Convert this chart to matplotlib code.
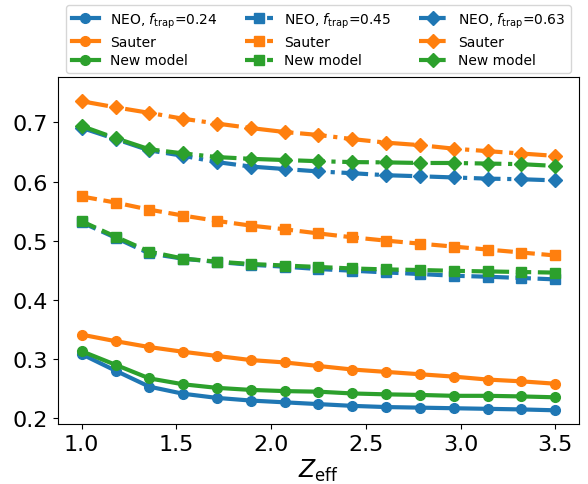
import matplotlib
matplotlib.use("Agg")
import matplotlib.pyplot as plt

zeff = [1.0, 1.179, 1.357, 1.536, 1.714, 1.893, 2.071, 2.25,
        2.429, 2.607, 2.786, 2.964, 3.143, 3.321, 3.5]

ftrap = ["0.24", "0.45", "0.63"]

neo_024 = [0.308, 0.280, 0.253, 0.241, 0.234, 0.2295, 0.2265, 0.2235,
           0.2205, 0.2185, 0.2175, 0.2165, 0.2155, 0.2145, 0.2130]
sauter_024 = [0.341, 0.330, 0.320, 0.312, 0.305, 0.298, 0.294, 0.288,
              0.282, 0.278, 0.274, 0.270, 0.265, 0.262, 0.258]
new_024 = [0.313, 0.290, 0.267, 0.257, 0.251, 0.2475, 0.2455, 0.2445,
           0.2415, 0.240, 0.239, 0.2375, 0.2375, 0.2365, 0.235]

neo_045 = [0.531, 0.505, 0.4784, 0.4695, 0.464, 0.4593, 0.456, 0.452,
           0.4492, 0.4463, 0.4436, 0.4407, 0.439, 0.4369, 0.4345]
sauter_045 = [0.5748, 0.5645, 0.5525, 0.5425, 0.5335, 0.5255, 0.5193, 0.5123,
              0.5057, 0.5001, 0.495, 0.490, 0.485, 0.480, 0.475]
new_045 = [0.5328, 0.5068, 0.4815, 0.4697, 0.4645, 0.4606, 0.458, 0.4555,
           0.453, 0.4514, 0.4504, 0.449, 0.448, 0.447, 0.446]

neo_063 = [0.691, 0.672, 0.6528, 0.6436, 0.633, 0.6254, 0.6213, 0.6172,
           0.6142, 0.6108, 0.609, 0.607, 0.605, 0.604, 0.602]
sauter_063 = [0.736, 0.7257, 0.7163, 0.7063, 0.6982, 0.6906, 0.6839, 0.6789,
              0.6719, 0.6659, 0.6617, 0.6557, 0.6515, 0.6475, 0.6435]
new_063 = [0.694, 0.6735, 0.6547, 0.6477, 0.6415, 0.6385, 0.6365, 0.6345,
           0.633, 0.6325, 0.6315, 0.6315, 0.6305, 0.6295, 0.6265]

groups = [
    (ftrap[0], neo_024, sauter_024, new_024, "o", "-"),
    (ftrap[1], neo_045, sauter_045, new_045, "s", "--"),
    (ftrap[2], neo_063, sauter_063, new_063, "D", "-."),
]

fig = plt.figure(figsize=(5.88, 4.85), dpi=100)
ax = fig.add_axes([0.0986, 0.1227, 0.9847 - 0.0986, 0.8392 - 0.1227])

lw = 3
ms = 7
for f, neo, sau, new, mk, ls in groups:
    ax.plot(zeff, neo, color="C0", marker=mk, ls=ls, lw=lw, ms=ms,
            label=r"NEO, $f_{\rm trap}$=" + f)
    ax.plot(zeff, sau, color="C1", marker=mk, ls=ls, lw=lw, ms=ms,
            label="Sauter")
    ax.plot(zeff, new, color="C2", marker=mk, ls=ls, lw=lw, ms=ms,
            label="New model")

ax.set_xlim(0.875, 3.625)
ax.set_ylim(0.189, 0.777)
ax.set_xticks([1.0, 1.5, 2.0, 2.5, 3.0, 3.5])
ax.set_yticks([0.2, 0.3, 0.4, 0.5, 0.6, 0.7])
ax.tick_params(labelsize=16)
ax.set_xlabel(r"$Z_{\rm eff}$", fontsize=17, labelpad=2)

fig.legend(loc="lower left", bbox_to_anchor=(66 / 588, 1 - 74 / 485),
           bbox_transform=fig.transFigure, borderaxespad=0,
           ncol=3, fontsize=10, labelspacing=0.35)

fig.savefig("out.png", dpi=100)
